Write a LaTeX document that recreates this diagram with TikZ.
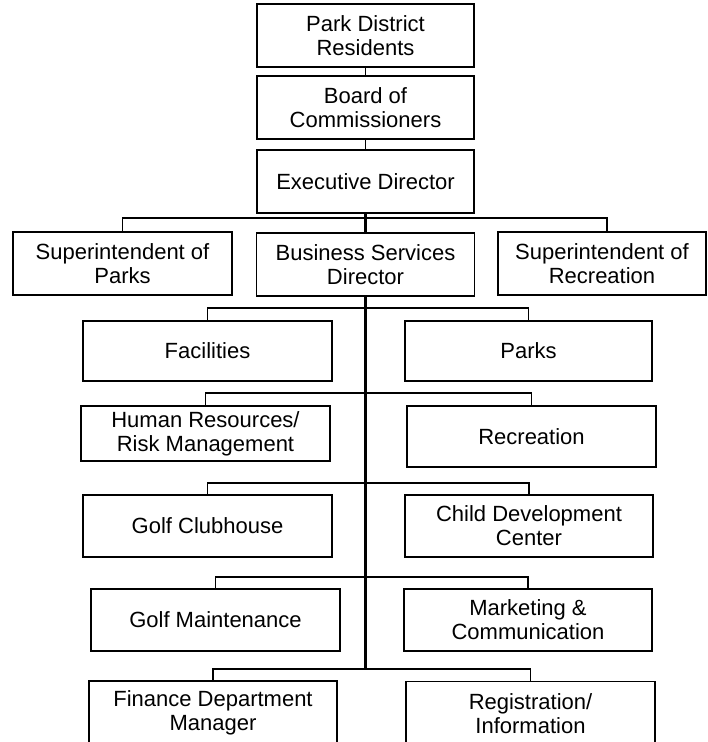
\documentclass[tikz,border=0pt]{standalone}
\usepackage{fontspec}
\setmainfont{Liberation Sans}
\begin{document}
\begin{tikzpicture}[x=1pt,y=-1pt,
  box/.style={draw, line width=1.8pt, rectangle, align=center, inner sep=0pt,
    font=\fontsize{22}{24}\selectfont},
  conn/.style={line width=1.8pt},
  trunk/.style={line width=2.5pt}]
\useasboundingbox (0,0) rectangle (708,742);
% top chain
\node[box, minimum width=217pt, minimum height=63pt] (res) at (365.5,35.5) {Park District\\Residents};
\node[box, minimum width=217pt, minimum height=63pt] (board) at (365.5,107.5) {Board of\\Commissioners};
\node[box, minimum width=217pt, minimum height=63pt] (exec) at (365.5,181.5) {Executive Director};
% second level
\node[box, minimum width=219pt, minimum height=63pt] (sp) at (122.5,263.5) {Superintendent of\\Parks};
\node[box, minimum width=218pt, minimum height=63pt] (bsd) at (365.5,264.5) {Business Services\\Director};
\node[box, minimum width=208pt, minimum height=63pt] (sr) at (602,263.5) {Superintendent of\\Recreation};
% departments
\node[box, minimum width=249pt, minimum height=60pt] (fac) at (207.5,351) {Facilities};
\node[box, minimum width=247pt, minimum height=60pt] (parks) at (528.5,351) {Parks};
\node[box, minimum width=249pt, minimum height=55pt] (hr) at (205.5,433.5) {Human Resources/\\Risk Management};
\node[box, minimum width=249pt, minimum height=61pt] (rec) at (531.5,436.5) {Recreation};
\node[box, minimum width=249pt, minimum height=62pt] (gc) at (207.5,526) {Golf Clubhouse};
\node[box, minimum width=248pt, minimum height=62pt] (cdc) at (529,526) {Child Development\\Center};
\node[box, minimum width=249pt, minimum height=62pt] (gm) at (215.5,620) {Golf Maintenance};
\node[box, minimum width=248pt, minimum height=62pt] (mc) at (528,620) {Marketing \&\\Communication};
\node[box, minimum width=248pt, minimum height=64pt] (fin) at (213,713) {Finance Department\\Manager};
\node[box, minimum width=249pt, minimum height=64pt] (reg) at (530.5,713.5) {Registration/\\Information};
% connectors
\draw[conn] (res) -- (board);
\draw[conn] (board) -- (exec);
\draw[trunk] (exec.south) -- (bsd.north);
\coordinate (e1) at (365.5,218);
\draw[conn] (e1) -| (sp.north);
\draw[conn] (e1) -| ([xshift=5pt]sr.north);
% trunk
\coordinate (t1) at (365.5,308);
\coordinate (t2) at (365.5,393);
\coordinate (t3) at (365.5,483);
\coordinate (t4) at (365.5,577);
\coordinate (t5) at (365.5,669);
\draw[trunk] (bsd.south) -- (t5);
\draw[conn] (t1) -| (fac.north);
\draw[conn] (t1) -| (parks.north);
\draw[conn] (t2) -| (hr.north);
\draw[conn] (t2) -| (rec.north);
\draw[conn] (t3) -| (gc.north);
\draw[conn] (t3) -| (cdc.north);
\draw[conn] (t4) -| (gm.north);
\draw[conn] (t4) -| (mc.north);
\draw[conn] (t5) -| (fin.north);
\draw[conn] (t5) -| (reg.north);
\end{tikzpicture}
\end{document}
